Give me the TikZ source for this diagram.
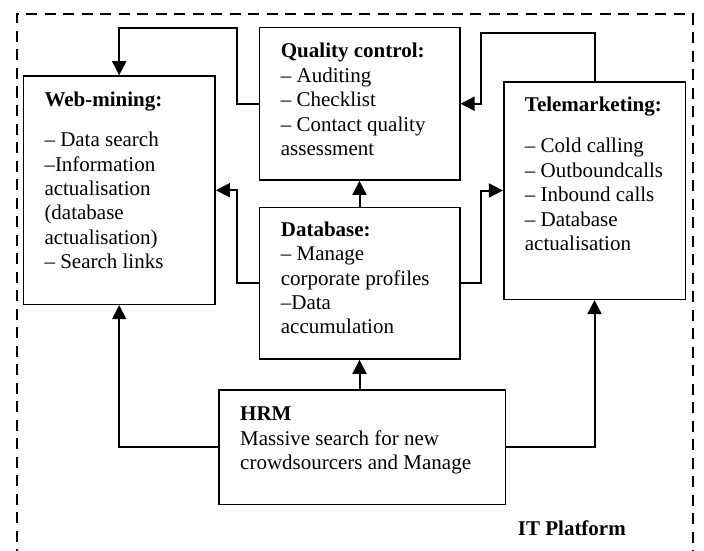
\documentclass[tikz,border=0pt]{standalone}
\usepackage{fontspec}
\setmainfont{Liberation Serif}
\usetikzlibrary{arrows.meta}
\begin{document}
\begin{tikzpicture}[x=1pt,y=-1pt,
  box/.style={draw,line width=1.6pt,rectangle,inner sep=0pt},
  arr/.style={line width=2pt,-{Triangle[length=14pt,width=14pt]}},
  txt/.style={anchor=base west,inner sep=0pt,align=left,font=\fontsize{21}{24.4}\selectfont},
  frame/.style={line width=2pt,dash pattern=on 11pt off 7.5pt}]
\useasboundingbox (0,0) rectangle (704,551);
\draw[frame] (16.7,560) -- (16.7,14.3) -- (692.7,14.3) -- (692.7,560);
% boxes
\node[box,minimum width=191.7pt,minimum height=228.3pt] (web) at (119.2,190.2) {};
\node[box,minimum width=200.4pt,minimum height=152.7pt] (qc) at (359.5,103.7) {};
\node[box,minimum width=200.4pt,minimum height=151.7pt] (db) at (359.5,283.2) {};
\node[box,minimum width=181.6pt,minimum height=217.6pt] (tele) at (594.5,190.5) {};
\node[box,line width=1.4pt,minimum width=286.3pt,minimum height=114.3pt] (hrm) at (362.2,447.2) {};
% texts (anchored at the baseline of the last line)
\node[txt] (webt) at (44.3,268.7) {\textbf{Web-mining:}\\[16.3pt]– Data search\\–Information\\actualisation\\(database\\actualisation)\\– Search links};
\node[txt] (qct) at (280.7,155.5) {\textbf{Quality control:}\\– Auditing\\– Checklist\\– Contact quality\\assessment};
\node[txt] (dbt) at (280.7,333.8) {\textbf{Database:}\\– Manage\\corporate profiles\\–Data\\accumulation};
\node[txt] (telet) at (524.7,250.5) {\textbf{Telemarketing:}\\[17.2pt]– Cold calling\\– Outboundcalls\\– Inbound calls\\– Database\\actualisation};
\node[txt] (hrmt) at (240,469.5) {\textbf{HRM}\\Massive search for new\\crowdsourcers and Manage};
\node[txt] (itp) at (517.7,535) {\textbf{IT Platform}};
% bend coordinates
\coordinate (b1) at (237.3,28);
\coordinate (b2) at (481.3,33.3);
\coordinate (b4) at (237.3,283.2);
\coordinate (b5) at (481.3,283.2);
% connectors
\draw[arr] (qc.west) -| (b1) -| (web.north);
\draw[arr] (tele.north) |- (b2) |- (qc.east);
\draw[arr] (db.north) -- (qc.south);
\draw[arr] (db.west) -- (b4) |- (web.east);
\draw[arr] (db.east) -- (b5) |- (tele.west);
\draw[arr] (db.south |- hrm.north) -- (db.south);
\draw[arr] (hrm.west) -| (web.south);
\draw[arr] (hrm.east) -| (tele.south);
\end{tikzpicture}
\end{document}
